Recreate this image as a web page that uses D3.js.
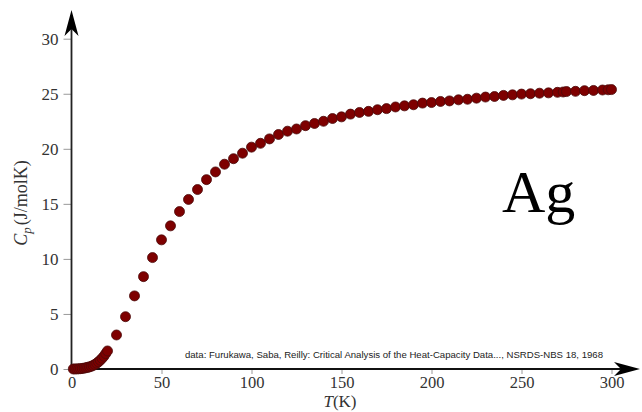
<!DOCTYPE html>
<html>
<head>
<meta charset="utf-8">
<script src="https://cdn.jsdelivr.net/npm/d3@7"></script>
<style>
  body { margin: 0; background: #fff; }
</style>
</head>
<body>
<div id="chart"></div>
<script>
// temperature (K) and heat capacity (J/molK) of silver
const temps = [1, 2, 3, 4, 5, 6, 7, 8, 9, 10, 11, 12, 13, 14, 15, 16, 17, 18, 19, 20,
  25, 30, 35, 40, 45, 50, 55, 60, 65, 70, 75, 80, 85, 90, 95, 100,
  105, 110, 115, 120, 125, 130, 135, 140, 145, 150, 155, 160, 165, 170, 175, 180,
  185, 190, 195, 200, 205, 210, 215, 220, 225, 230, 235, 240, 245, 250, 255, 260,
  265, 270, 273.15, 275, 280, 285, 290, 295, 298.15, 300];
const cps = [0.001, 0.003, 0.008, 0.016, 0.03, 0.05, 0.08, 0.11, 0.15, 0.19, 0.25, 0.32, 0.41, 0.52, 0.65, 0.80, 0.97, 1.16, 1.40, 1.64,
  3.09, 4.75, 6.64, 8.39, 10.12, 11.73, 13.0, 14.3, 15.4, 16.3, 17.2, 17.9, 18.6, 19.1, 19.6, 20.15,
  20.5, 20.9, 21.3, 21.6, 21.8, 22.1, 22.3, 22.5, 22.75, 22.9, 23.15, 23.3, 23.4, 23.55, 23.65, 23.8,
  23.9, 24.0, 24.15, 24.2, 24.3, 24.35, 24.45, 24.5, 24.6, 24.7, 24.75, 24.85, 24.9, 24.97, 25.0, 25.05,
  25.08, 25.13, 25.16, 25.2, 25.22, 25.28, 25.3, 25.34, 25.36, 25.38];
const xTicks = [0, 50, 100, 150, 200, 250, 300];
const yTicks = [0, 5, 10, 15, 20, 25, 30];
const source = "data: Furukawa, Saba, Reilly: Critical Analysis of the Heat-Capacity Data..., NSRDS-NBS 18, 1968";
const element = "Ag";

const data = temps.map((t, i) => ({t: t, cp: cps[i]}));

const serif = "'Liberation Serif', 'DejaVu Serif', serif";
const sans = "'Liberation Sans', Arial, sans-serif";

const W = 642, H = 412;
const svg = d3.select("#chart")
  .append("svg")
  .attr("width", W)
  .attr("height", H);

const x = d3.scaleLinear().domain([0, 300]).range([71.5, 611.5]);
const y = d3.scaleLinear().domain([0, 30]).range([369, 38.7]);

// arrow heads (stealth style)
function arrow(len, wid, notch) {
  return `M0,0 L${-len},${-wid / 2} L${-len + notch},0 L${-len},${wid / 2} Z`;
}

// Y axis
const yAxis = svg.append("g")
  .attr("transform", `translate(${x(0)},0)`)
  .call(d3.axisLeft(y).tickValues(yTicks).tickSize(8).tickPadding(5).tickFormat(d3.format("d")));
yAxis.select(".domain").remove();
yAxis.selectAll(".tick line").attr("stroke", "#999").attr("stroke-width", 1);
yAxis.selectAll(".tick text")
  .style("font-family", serif)
  .style("font-size", "17px")
  .attr("fill", "#333");

svg.append("line")
  .attr("x1", x(0)).attr("x2", x(0))
  .attr("y1", y(0) + 2).attr("y2", 22)
  .attr("stroke", "#222").attr("stroke-width", 1.8);
svg.append("path")
  .attr("d", arrow(26, 14, 7))
  .attr("transform", `translate(${x(0)},10) rotate(-90)`)
  .attr("fill", "#000");

// X axis
const xAxis = svg.append("g")
  .attr("transform", `translate(0,${y(0)})`)
  .call(d3.axisBottom(x).tickValues(xTicks).tickSize(5).tickPadding(2).tickFormat(d3.format("d")));
xAxis.select(".domain").remove();
xAxis.selectAll(".tick line").attr("stroke", "#999").attr("stroke-width", 1);
xAxis.selectAll(".tick text")
  .style("font-family", serif)
  .style("font-size", "16.5px")
  .attr("fill", "#333");

svg.append("line")
  .attr("x1", x(0) - 2).attr("x2", 628)
  .attr("y1", y(0)).attr("y2", y(0))
  .attr("stroke", "#111").attr("stroke-width", 2);
svg.append("path")
  .attr("d", arrow(26, 14, 7))
  .attr("transform", `translate(640,${y(0)})`)
  .attr("fill", "#000");

// axis titles
const xt = svg.append("text")
  .attr("x", 340).attr("y", 407)
  .attr("text-anchor", "middle")
  .style("font-family", serif)
  .style("font-size", "17px")
  .attr("fill", "#333");
xt.append("tspan").style("font-style", "italic").text("T");
xt.append("tspan").text("(K)");

const yt = svg.append("text")
  .attr("transform", "translate(27,203) rotate(-90)")
  .attr("text-anchor", "middle")
  .style("font-family", serif)
  .style("font-size", "18px")
  .attr("fill", "#333");
yt.append("tspan").style("font-style", "italic").text("C");
yt.append("tspan").style("font-style", "italic").style("font-size", "13px").attr("dy", 4).text("p");
yt.append("tspan").attr("dy", -4).attr("dx", 2).text("(J/molK)");

// source note and element label
svg.append("text")
  .attr("x", 603).attr("y", 358)
  .attr("text-anchor", "end")
  .style("font-family", sans)
  .style("font-size", "9.6px")
  .attr("fill", "#222")
  .text(source);

svg.append("text")
  .attr("x", 502).attr("y", 212)
  .style("font-family", serif)
  .style("font-size", "60px")
  .attr("fill", "#000")
  .text(element);

// dots
svg.append("g")
  .selectAll("circle")
  .data(data)
  .join("circle")
    .attr("cx", d => x(d.t))
    .attr("cy", d => y(d.cp))
    .attr("r", 5)
    .attr("fill", "#7e0000")
    .attr("stroke", "#4a0a0a")
    .attr("stroke-width", 0.8);
</script>
</body>
</html>
